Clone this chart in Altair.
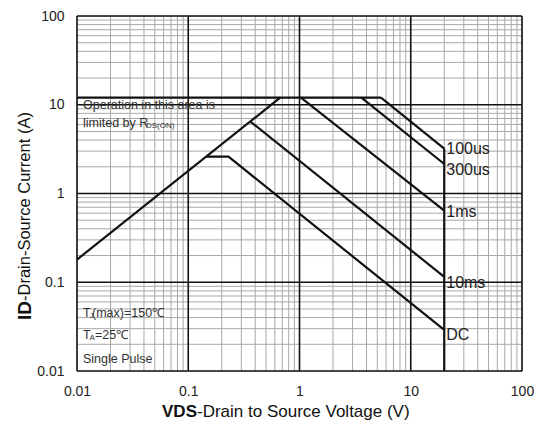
import altair as alt
import pandas as pd

W, H = 445, 355
FONT = "Liberation Sans"

# ---- data ----
decades = [0.01, 0.1, 1, 10, 100]
minor_steps = [2, 3, 4, 5, 6, 7, 8, 9]

rds_v = [0.01, 0.67]
rds_i = [0.18, 12]
dc_v = [0.145, 0.23, 20]
dc_i = [2.6, 2.6, 0.029]
ms10_v = [0.36, 20]
ms10_i = [6.5, 0.115]
ms1_v = [1.03, 20]
ms1_i = [12, 0.64]
us300_v = [3.6, 20]
us300_i = [12, 2.15]
us100_v = [5.4, 20]
us100_i = [12, 3.2]
limit_v = [0.01, 5.4]
limit_i = [12, 12]
vmax_v = [20, 20]
vmax_i = [0.01, 3.2]

label_text = ["100us", "300us", "1ms", "10ms", "DC"]
label_v = [20, 20, 20, 20, 20]
label_i = [3.16, 1.85, 0.615, 0.097, 0.0257]

# ---- tables ----
series = {
    "rds": (rds_v, rds_i), "dc": (dc_v, dc_i), "10ms": (ms10_v, ms10_i),
    "1ms": (ms1_v, ms1_i), "300us": (us300_v, us300_i), "100us": (us100_v, us100_i),
    "limit": (limit_v, limit_i), "vmax": (vmax_v, vmax_i),
}
rows = []
for name, (vs, cs) in series.items():
    for k, (v, c) in enumerate(zip(vs, cs)):
        rows.append({"s": name, "o": k, "v": v, "i": c})
curves = pd.DataFrame(rows)

minor = [m * d for d in decades[:-1] for m in minor_steps]
grid_minor = pd.DataFrame({"g": minor})
grid_major = pd.DataFrame({"g": decades})
labels = pd.DataFrame({"t": label_text, "v": label_v, "i": label_i})

xs = alt.Scale(type="log", domain=[0.01, 100], nice=False)
ys = alt.Scale(type="log", domain=[0.01, 100], nice=False)

ax_common = dict(domain=False, ticks=False, grid=False, labelFontSize=14, labelFont=FONT,
                 labelColor="#222", labelPadding=13, labelFlush=False, labelOverlap=False,
                 title=None, format="~g", values=decades)

base = alt.Chart(curves)

vminor = alt.Chart(grid_minor).mark_rule(color="#a8a8a8", strokeWidth=1).encode(
    x=alt.X("g:Q", scale=xs, axis=alt.Axis(**ax_common)))
hminor = alt.Chart(grid_minor).mark_rule(color="#a8a8a8", strokeWidth=1).encode(
    y=alt.Y("g:Q", scale=ys, axis=alt.Axis(**ax_common)))
vmajor = alt.Chart(grid_major).mark_rule(color="#111", strokeWidth=1.6).encode(
    x=alt.X("g:Q", scale=xs))
hmajor = alt.Chart(grid_major).mark_rule(color="#111", strokeWidth=1.6).encode(
    y=alt.Y("g:Q", scale=ys))

lines = base.mark_line(color="#111", strokeWidth=2.2).encode(
    x=alt.X("v:Q", scale=xs),
    y=alt.Y("i:Q", scale=ys),
    detail="s:N",
    order="o:Q",
)

curve_labels = alt.Chart(labels).mark_text(
    align="left", baseline="middle", dx=2, fontSize=16, font=FONT, color="#222"
).encode(x=alt.X("v:Q", scale=xs), y=alt.Y("i:Q", scale=ys), text="t:N")

# ---- annotation texts ----
def txt(s, x, y, size=12.5, weight="normal", align="left", angle=0, color="#333"):
    kw = dict(align=align, baseline="middle", fontSize=size, font=FONT,
              fontWeight=weight, color=color)
    if angle:
        kw["angle"] = angle
    return alt.Chart(pd.DataFrame({"t": [s]})).mark_text(**kw).encode(
        x=alt.value(x), y=alt.value(y), text="t:N")

notes = [
    txt("Operation in this area is", 6, 89),
    txt("limited by R", 6, 107),
    txt("DS(ON)", 69, 110, size=8),
    txt("T", 6, 297),
    txt("J", 12.5, 300, size=8),
    txt("(max)=150℃", 15, 297),
    txt("T", 6, 319),
    txt("A", 12.5, 322, size=8),
    txt("=25℃", 18, 319),
    txt("Single Pulse", 6, 343),
    txt("VDS", 120, 396, size=17, weight="bold", align="right", color="#111"),
    txt("-Drain to Source Voltage (V)", 120, 396, size=17, color="#111"),
    txt("ID", -52, 285, size=19, weight="bold", align="right", angle=270, color="#111"),
    txt("-Drain-Source Current (A)", -52, 285, size=16.5, align="left", angle=270, color="#111"),
]

chart = alt.layer(vminor, hminor, vmajor, hmajor, lines, curve_labels, *notes).properties(
    width=W, height=H,
    autosize=alt.AutoSizeParams(type="none"),
    padding={"left": 69, "top": 8, "right": 12, "bottom": 52},
).configure_view(stroke="#111", strokeWidth=2).configure(background="white")

chart.save("out.html", embed_options={"renderer": "svg", "actions": False})
